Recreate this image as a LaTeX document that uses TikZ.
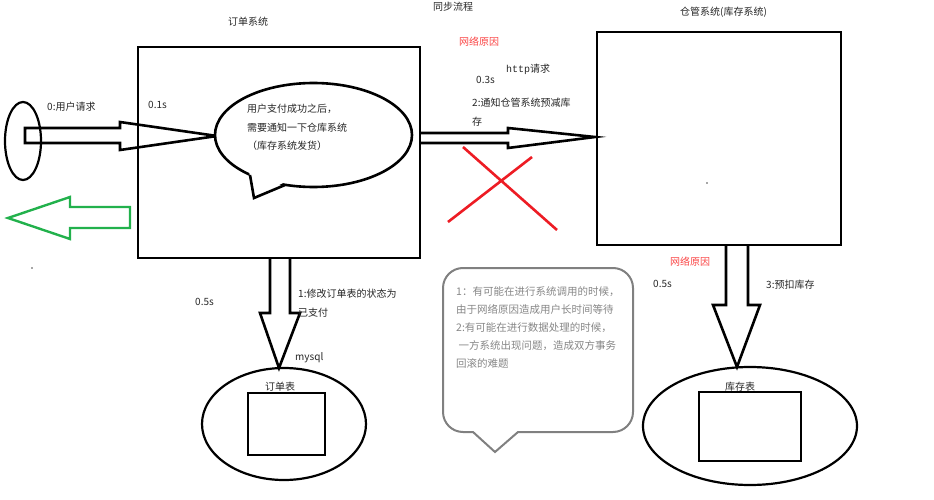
\documentclass[tikz,border=0pt]{standalone}
\usepackage{fontspec}
\setmainfont{Noto Sans CJK SC}
\setmonofont{Liberation Mono}
\usetikzlibrary{shapes.geometric}
\definecolor{paintgreen}{RGB}{34,177,76}
\definecolor{paintred}{RGB}{237,28,36}
\definecolor{labelred}{RGB}{250,70,70}
\definecolor{notegray}{RGB}{128,128,128}
\tikzset{x=1pt, y=-1pt,
  sysbox/.style={draw, line width=2.6pt, inner sep=0pt},
  dbring/.style={draw, ellipse, line width=2.2pt, inner sep=0pt},
  tabbox/.style={draw, line width=2pt, inner sep=0pt},
  blockarrow/.style={draw, line width=2.6pt, line join=miter},
  lbl/.style={inner sep=0pt, anchor=west, text=black!85, font=\fontsize{10}{12}\selectfont},
  redlbl/.style={lbl, text=labelred},
  multilbl/.style={lbl, anchor=north west, align=left, font=\fontsize{10}{18.5}\selectfont}}

\begin{document}
\begin{tikzpicture}
  \useasboundingbox (0,0) rectangle (934,500);
  % systems
  \node[sysbox, minimum width=282pt, minimum height=211pt] (order) at (279,152.5) {};
  \node[sysbox, minimum width=244pt, minimum height=213pt] (stock) at (719,138.5) {};
  \node[lbl] (ordername) at (228,22) {订单系统};
  \node[lbl] (stockname) at (680,12) {仓管系统(库存系统)};
  \node[lbl] (flow) at (433,7) {同步流程};
  % user request
  \node[dbring, minimum width=36pt, minimum height=78pt] (user) at (23,141) {};
  \draw[blockarrow] (25,128) -- (120,128) -- (120,122) -- (217,136) -- (120,150) -- (120,143) -- (25,143) -- cycle;
  \draw[blockarrow, paintgreen, line width=2.4pt] (130,207) -- (70,207) -- (70,197) -- (8,218) -- (70,239) -- (70,228) -- (130,228) -- cycle;
  \node[lbl] (req) at (47,107) {0:用户请求};
  \node[lbl] (t1) at (148,105) {0.1s};
  % bubble
  \node[dbring, fill=white, line width=2.6pt, minimum width=197pt, minimum height=104pt] (bubble) at (313.5,135) {};
  \fill[white] (249,171) -- (254,198) -- (287,181) -- cycle;
  \draw[blockarrow] (250,175) -- (254,198) -- (285,185);
  \node[multilbl] (bubbletext) at (247,104) {用户支付成功之后，\\需要通知一下仓库系统\\（库存系统发货）};
  % order -> stock
  \draw[blockarrow] (420,133) -- (508,133) -- (508,128) -- (595,137) -- (508,148) -- (508,143) -- (420,143);
  \node[redlbl] (net1) at (459,42) {网络原因};
  \node[lbl] (http) at (506,69) {{\ttfamily http}请求};
  \node[lbl] (t3) at (476,80) {0.3s};
  \node[multilbl] (step2) at (472,98) {2:通知仓管系统预减库\\存};
  \draw[paintred, line width=2.6pt] (463,147) -- (557,230) (532,157) -- (448,222);
  % order table
  \draw[blockarrow] (270,258) -- (270,313) -- (260,313) -- (279,368) -- (300,313) -- (290,313) -- (290,258);
  \node[lbl] (t5a) at (195,302) {0.5s};
  \node[multilbl] (step1) at (298,289) {1:修改订单表的状态为\\已支付};
  \node[lbl] (mysql) at (295,358) {mysql};
  \node[dbring, minimum width=164pt, minimum height=112pt] (ordtab) at (284,424) {};
  \node[lbl] (ordtabname) at (265,387) {订单表};
  \node[tabbox, minimum width=77pt, minimum height=62pt] (ordsheet) at (286.5,424) {};
  % stock table
  \draw[blockarrow] (726,245) -- (726,305) -- (713,305) -- (737,367) -- (760,305) -- (748,305) -- (748,245);
  \node[redlbl] (net2) at (670,262) {网络原因};
  \node[lbl] (t5b) at (653,284) {0.5s};
  \node[lbl] (step3) at (766,285) {3:预扣库存};
  \node[dbring, minimum width=214pt, minimum height=118pt] (stocktab) at (750,426) {};
  \node[lbl] (stocktabname) at (725,387) {库存表};
  \node[tabbox, minimum width=102pt, minimum height=69pt] (stocksheet) at (750,426.5) {};
  % note
  \draw[notegray, line width=2pt] (495,452) -- (473,432) {[rounded corners=20pt] -- (443,432) -- (443,268) -- (633,268) -- (633,432)} -- (518,432) -- cycle;
  \node[multilbl, text=notegray!95, font=\fontsize{10.5}{18.2}\selectfont] (notetext) at (456,286) {1：有可能在进行系统调用的时候，\\由于网络原因造成用户长时间等待\\2:有可能在进行数据处理的时候，\\\ 一方系统出现问题，造成双方事务\\回滚的难题};
  % stray dots
  \fill[black!70] (32,268) circle (0.8pt) (707,183) circle (0.8pt);
\end{tikzpicture}
\end{document}
